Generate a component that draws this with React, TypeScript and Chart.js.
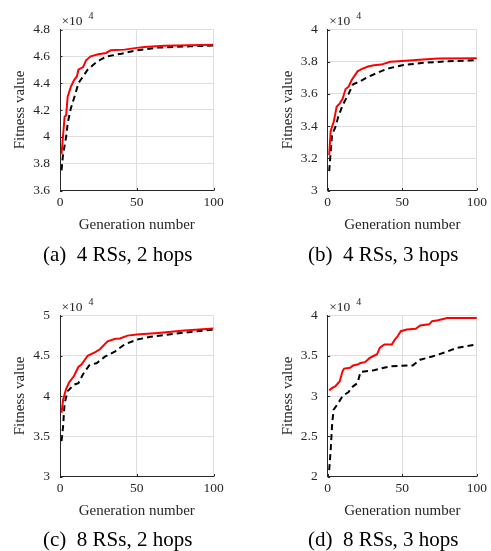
import React, { useEffect, useRef } from "react";
import { Chart, registerables } from "chart.js";

Chart.register(...registerables);

// ---------- data (fitness values are in units of 10^4) ----------
const xTicks = [0, 50, 100];

const aYTicks = [3.6, 3.8, 4, 4.2, 4.4, 4.6, 4.8];
const aRedGen = [1, 3, 4, 5, 7, 9, 11, 12, 15, 17, 20, 25, 30, 33, 42, 50, 55, 68, 100];
const aRedFit = [3.87, 4.15, 4.16, 4.3, 4.37, 4.42, 4.45, 4.5, 4.52, 4.57, 4.6, 4.615, 4.625, 4.645, 4.65, 4.663, 4.67, 4.678, 4.686];
const aBlackGen = [1, 2, 4, 5, 7, 10, 12, 15, 18, 23, 27, 31, 40, 50, 64, 85, 100];
const aBlackFit = [3.75, 3.87, 4.0, 4.1, 4.21, 4.32, 4.4, 4.45, 4.5, 4.55, 4.58, 4.6, 4.62, 4.645, 4.665, 4.675, 4.68];

const bYTicks = [3, 3.2, 3.4, 3.6, 3.8, 4];
const bRedGen = [1, 2, 4, 6, 8, 10, 12, 14, 16, 20, 23, 27, 31, 36, 42, 50, 64, 74, 100];
const bRedFit = [3.22, 3.37, 3.425, 3.52, 3.54, 3.57, 3.63, 3.645, 3.685, 3.74, 3.755, 3.77, 3.778, 3.782, 3.8, 3.805, 3.813, 3.82, 3.822];
const bBlackGen = [1, 2, 3, 5, 7, 10, 14, 17, 21, 27, 33, 40, 50, 64, 81, 100];
const bBlackFit = [3.12, 3.24, 3.35, 3.39, 3.455, 3.53, 3.6, 3.66, 3.675, 3.705, 3.73, 3.757, 3.778, 3.793, 3.803, 3.809];

const cYTicks = [3, 3.5, 4, 4.5, 5];
const cRedGen = [1, 2, 4, 6, 9, 12, 14, 18, 23, 26, 31, 36, 39, 44, 50, 64, 81, 100];
const cRedFit = [3.79, 3.95, 4.09, 4.17, 4.245, 4.36, 4.39, 4.5, 4.545, 4.58, 4.68, 4.71, 4.715, 4.75, 4.763, 4.784, 4.813, 4.838];
const cBlackGen = [1, 2, 3, 5, 9, 12, 15, 19, 24, 29, 36, 42, 50, 59, 75, 100];
const cBlackFit = [3.44, 3.62, 3.91, 4.06, 4.14, 4.16, 4.27, 4.38, 4.41, 4.485, 4.555, 4.64, 4.7, 4.735, 4.775, 4.825];

const dYTicks = [2, 2.5, 3, 3.5, 4];
const dRedGen = [1, 3, 5, 8, 10, 11, 15, 17, 20, 22, 25, 28, 31, 33, 35, 38, 43, 45, 47, 49, 53, 59, 62, 68, 70, 74, 80, 100];
const dRedFit = [3.07, 3.1, 3.12, 3.18, 3.31, 3.34, 3.35, 3.38, 3.39, 3.41, 3.42, 3.47, 3.5, 3.515, 3.6, 3.64, 3.64, 3.7, 3.745, 3.805, 3.825, 3.835, 3.875, 3.89, 3.93, 3.94, 3.97, 3.97];
const dBlackGen = [1, 2, 3, 4, 7, 10, 14, 17, 20, 22, 31, 42, 57, 62, 70, 79, 87, 100];
const dBlackFit = [2.08, 2.33, 2.66, 2.83, 2.91, 3.0, 3.05, 3.12, 3.16, 3.3, 3.32, 3.37, 3.38, 3.45, 3.49, 3.545, 3.6, 3.64];

const captions = ["(a)  4 RSs, 2 hops", "(b)  4 RSs, 3 hops", "(c)  8 RSs, 2 hops", "(d)  8 RSs, 3 hops"];
const xTitle = "Generation number";
const yTitle = "Fitness value";
const exponentBase = "\u00d710";
const exponent = "4";

// ---------- styles ----------
const FONT = '"Liberation Serif", "Times New Roman", Times, serif';
const AXIS = "#262626";
const GRID = "#dedede";
const RED = "#ff0000";
const BLACK = "#000000";
const TICK_SIZE = 13.5;
const TITLE_SIZE = 15;
const CAPTION_SIZE = 21;

type PanelSpec = {
  left: number; top: number; width: number; height: number;
  plotLeft: number; plotRight: number; plotTop: number; plotBottom: number;
  yTitleX: number; xAxisBottom: number;
  yTicks: number[];
  redGen: number[]; redFit: number[]; blackGen: number[]; blackFit: number[];
  caption: string; captionLeft: number; captionBaseline: number;
};

const panels: PanelSpec[] = [
  {
    left: 0, top: 0, width: 245, height: 275,
    plotLeft: 60, plotRight: 213.5, plotTop: 29.5, plotBottom: 190.5,
    yTitleX: 20, xAxisBottom: 234,
    yTicks: aYTicks, redGen: aRedGen, redFit: aRedFit, blackGen: aBlackGen, blackFit: aBlackFit,
    caption: captions[0], captionLeft: 43, captionBaseline: 262,
  },
  {
    left: 245, top: 0, width: 246, height: 275,
    plotLeft: 82.7, plotRight: 236, plotTop: 29.5, plotBottom: 190.5,
    yTitleX: 43, xAxisBottom: 234,
    yTicks: bYTicks, redGen: bRedGen, redFit: bRedFit, blackGen: bBlackGen, blackFit: bBlackFit,
    caption: captions[1], captionLeft: 63, captionBaseline: 262,
  },
  {
    left: 0, top: 275, width: 245, height: 276,
    plotLeft: 60, plotRight: 213.5, plotTop: 40.5, plotBottom: 201.5,
    yTitleX: 20, xAxisBottom: 245,
    yTicks: cYTicks, redGen: cRedGen, redFit: cRedFit, blackGen: cBlackGen, blackFit: cBlackFit,
    caption: captions[2], captionLeft: 43, captionBaseline: 272,
  },
  {
    left: 245, top: 275, width: 246, height: 276,
    plotLeft: 82.7, plotRight: 236, plotTop: 40.5, plotBottom: 201.5,
    yTitleX: 43, xAxisBottom: 245,
    yTicks: dYTicks, redGen: dRedGen, redFit: dRedFit, blackGen: dBlackGen, blackFit: dBlackFit,
    caption: captions[3], captionLeft: 63, captionBaseline: 272,
  },
];

const matlabDecor = {
  id: "matlabDecor",
  afterDraw(chart: any) {
    const { ctx, chartArea, scales } = chart;
    const xs = scales.x;
    const ys = scales.y;
    ctx.save();
    // inward tick marks
    ctx.strokeStyle = AXIS;
    ctx.lineWidth = 1;
    ctx.beginPath();
    xs.ticks.forEach((t: any) => {
      const px = Math.round(xs.getPixelForValue(t.value)) + 0.5;
      ctx.moveTo(px, chartArea.bottom);
      ctx.lineTo(px, chartArea.bottom - 2.5);
    });
    ys.ticks.forEach((t: any) => {
      const py = Math.round(ys.getPixelForValue(t.value)) + 0.5;
      ctx.moveTo(chartArea.left, py);
      ctx.lineTo(chartArea.left + 2.5, py);
    });
    ctx.stroke();
    // exponent label
    ctx.fillStyle = AXIS;
    ctx.textBaseline = "alphabetic";
    ctx.textAlign = "left";
    ctx.font = `${TICK_SIZE}px ${FONT}`;
    const bx = chartArea.left + 1.5;
    const by = chartArea.top - 4.5;
    ctx.fillText(exponentBase, bx, by);
    const w = ctx.measureText(exponentBase).width;
    ctx.font = `10px ${FONT}`;
    ctx.fillText(exponent, bx + w + 6, by - 6);
    ctx.restore();
  },
};

function Panel({ spec }: { spec: PanelSpec }) {
  const ref = useRef<HTMLCanvasElement | null>(null);
  useEffect(() => {
    if (!ref.current) return;
    const titleHalf = (TITLE_SIZE * 1.2) / 2;
    const padLeft = spec.yTitleX - titleHalf;
    const chart = new Chart(ref.current, {
      type: "line",
      data: {
        datasets: [
          {
            data: spec.redGen.map((g, i) => ({ x: g, y: spec.redFit[i] })),
            borderColor: RED,
            borderWidth: 2,
            pointRadius: 0,
            fill: false,
            tension: 0,
          },
          {
            data: spec.blackGen.map((g, i) => ({ x: g, y: spec.blackFit[i] })),
            borderColor: BLACK,
            borderWidth: 2,
            borderDash: [6, 4],
            pointRadius: 0,
            fill: false,
            tension: 0,
          },
        ],
      },
      options: {
        animation: false,
        responsive: false,
        maintainAspectRatio: false,
        devicePixelRatio: 1,
        events: [],
        layout: {
          padding: {
            left: padLeft,
            top: spec.plotTop,
            right: spec.width - spec.plotRight,
            bottom: spec.height - spec.xAxisBottom,
          },
        },
        plugins: { legend: { display: false }, tooltip: { enabled: false }, title: { display: false } },
        scales: {
          x: {
            type: "linear",
            min: 0,
            max: 100,
            afterBuildTicks: (s: any) => { s.ticks = xTicks.map((v) => ({ value: v })); },
            afterFit: (s: any) => { s.height = spec.xAxisBottom - spec.plotBottom; },
            grid: { color: GRID, lineWidth: 1, drawTicks: false },
            border: { color: AXIS, width: 1 },
            ticks: {
              font: { family: FONT, size: TICK_SIZE },
              color: AXIS,
              padding: 4,
              maxRotation: 0,
              autoSkip: false,
              callback: (v: any) => String(v),
            },
            title: { display: true, text: xTitle, font: { family: FONT, size: TITLE_SIZE }, color: AXIS, padding: 0 },
          },
          y: {
            type: "linear",
            min: spec.yTicks[0],
            max: spec.yTicks[spec.yTicks.length - 1],
            afterBuildTicks: (s: any) => { s.ticks = spec.yTicks.map((v) => ({ value: v })); },
            afterFit: (s: any) => { s.width = spec.plotLeft - padLeft; },
            grid: { color: GRID, lineWidth: 1, drawTicks: false },
            border: { color: AXIS, width: 1 },
            ticks: {
              font: { family: FONT, size: TICK_SIZE },
              color: AXIS,
              padding: 10,
              autoSkip: false,
              callback: (v: any) => String(v),
            },
            title: { display: true, text: yTitle, font: { family: FONT, size: TITLE_SIZE }, color: AXIS, padding: 0 },
          },
        },
      },
      plugins: [matlabDecor],
    } as any);
    return () => chart.destroy();
  }, [spec]);

  return (
    <>
      <canvas
        ref={ref}
        width={spec.width}
        height={spec.height}
        style={{ position: "absolute", left: spec.left, top: spec.top, width: spec.width, height: spec.height }}
      />
      <div
        style={{
          position: "absolute",
          left: spec.left + spec.captionLeft,
          top: spec.top + spec.captionBaseline - 0.838 * CAPTION_SIZE,
          fontFamily: FONT,
          fontSize: CAPTION_SIZE,
          lineHeight: 1,
          whiteSpace: "pre",
          color: "#000",
        }}
      >
        {spec.caption}
      </div>
    </>
  );
}

export default function App() {
  return (
    <div style={{ position: "absolute", left: 0, top: 0, width: 491, height: 551, background: "#fff", overflow: "hidden" }}>
      {panels.map((p, i) => (
        <Panel key={i} spec={p} />
      ))}
    </div>
  );
}
